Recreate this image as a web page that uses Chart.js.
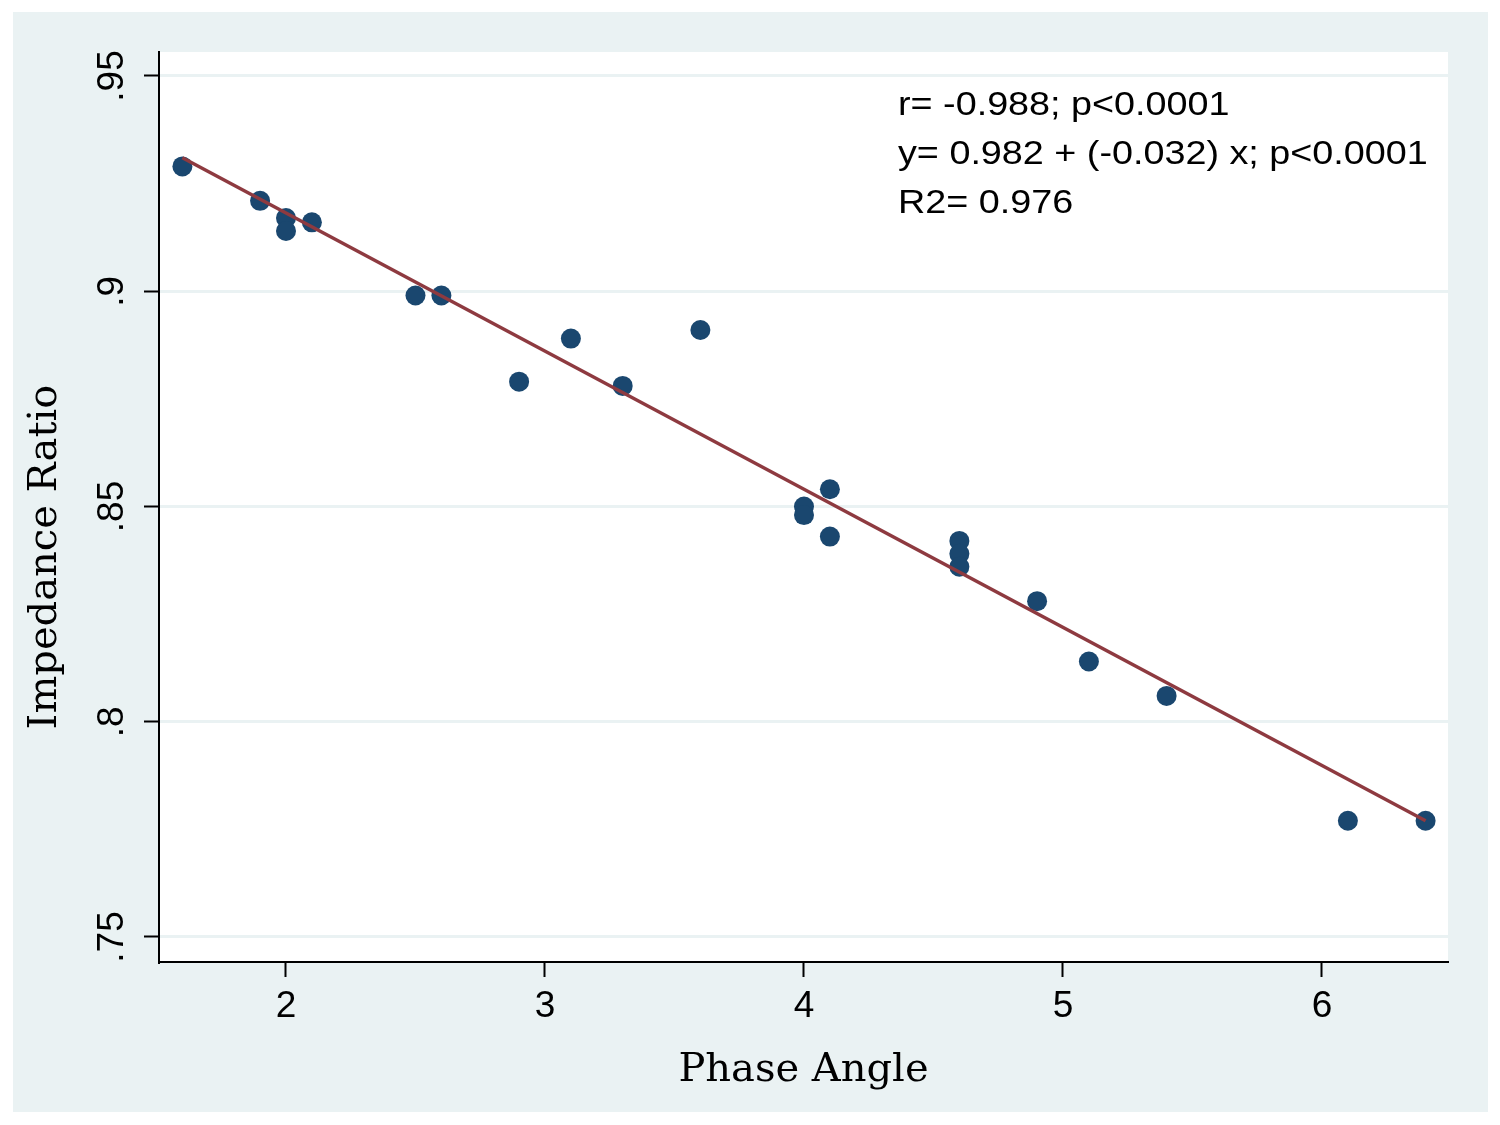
<!DOCTYPE html>
<html>
<head>
<meta charset="utf-8">
<script src="https://cdn.jsdelivr.net/npm/chart.js@4/dist/chart.umd.min.js"></script>
<style>
  html, body { margin: 0; padding: 0; background: #fff; }
</style>
</head>
<body>
<canvas id="myChart" width="1500" height="1125"></canvas>
<script>
// observed points (Phase Angle, Impedance Ratio)
var phaseAngle = [1.6, 1.9, 2.0, 2.0, 2.1, 2.5, 2.6, 2.9, 3.1, 3.3, 3.6,
                  4.0, 4.0, 4.1, 4.1, 4.6, 4.6, 4.6, 4.9, 5.1, 5.4, 6.1, 6.4];
var impedanceRatio = [0.929, 0.921, 0.917, 0.914, 0.916, 0.899, 0.899, 0.879, 0.889, 0.878, 0.891,
                      0.850, 0.848, 0.854, 0.843, 0.842, 0.839, 0.836, 0.828, 0.814, 0.806, 0.777, 0.777];

// fitted line ends
var fitX = [1.6, 6.4];
var fitY = [0.931, 0.777];

var xTicks = [2, 3, 4, 5, 6];
var yTicks = [0.75, 0.80, 0.85, 0.90, 0.95];
var yTickLabels = ['.75', '.8', '.85', '.9', '.95'];

var statsText = [
  'r= -0.988; p<0.0001',
  'y= 0.982 + (-0.032) x; p<0.0001',
  'R2= 0.976'
];

var bgColor = '#eaf2f3';

var backdrop = {
  id: 'backdrop',
  beforeDraw: function(chart) {
    var c = chart.ctx, a = chart.chartArea;
    c.save();
    c.fillStyle = '#fff';
    c.fillRect(0, 0, chart.width, chart.height);
    c.fillStyle = bgColor;
    c.fillRect(13, 12, 1475, 1100);
    c.fillStyle = '#fff';
    c.fillRect(a.left, a.top, a.right - a.left, a.bottom - a.top);
    c.restore();
  },
  afterDraw: function(chart) {
    var c = chart.ctx;
    c.save();
    // y axis title
    c.font = '40px "DejaVu Serif"';
    c.fillStyle = '#000';
    c.textAlign = 'center';
    c.textBaseline = 'middle';
    c.translate(46, 557);
    c.rotate(-Math.PI / 2);
    c.fillText('Impedance Ratio', 0, 0);
    c.restore();

    // stats text
    c.save();
    c.font = '34px "Liberation Sans"';
    c.fillStyle = '#000';
    c.textBaseline = 'alphabetic';
    for (var i = 0; i < statsText.length; i++) {
      c.save();
      c.translate(898, 115 + i * 49);
      c.scale(1.11, 1);
      c.fillText(statsText[i], 0, 0);
      c.restore();
    }
    c.restore();
  }
};

var ctx = document.getElementById('myChart').getContext('2d');
var myChart = new Chart(ctx, {
  type: 'scatter',
  data: {
    datasets: [{
      type: 'line',
      label: 'Fitted values',
      data: fitX.map(function(x, i) { return {x: x, y: fitY[i]}; }),
      borderColor: '#8e3a40',
      borderWidth: 3.5,
      pointRadius: 0,
      fill: false,
      order: 0
    }, {
      label: 'Impedance Ratio',
      data: phaseAngle.map(function(x, i) { return {x: x, y: impedanceRatio[i]}; }),
      backgroundColor: '#1a476f',
      borderWidth: 0,
      pointRadius: 10,
      order: 1
    }]
  },
  options: {
    responsive: false,
    animation: false,
    layout: { padding: { left: 0, top: 52, right: 52, bottom: 0 } },
    plugins: {
      legend: { display: false },
      tooltip: { enabled: false }
    },
    scales: {
      x: {
        type: 'linear',
        min: 1.5097,
        max: 6.4865,
        afterBuildTicks: function(axis) {
          axis.ticks = xTicks.map(function(v) { return {value: v}; });
        },
        afterFit: function(axis) { axis.height = 163; },
        ticks: {
          color: '#000',
          font: { family: '"Liberation Sans"', size: 37 },
          padding: 8,
          maxRotation: 0,
          callback: function(v) { return String(v); }
        },
        grid: {
          drawOnChartArea: false,
          drawTicks: true,
          tickLength: 15,
          tickColor: '#000',
          tickWidth: 2
        },
        border: { display: true, color: '#000', width: 2 },
        title: {
          display: true,
          text: 'Phase Angle',
          color: '#000',
          font: { family: '"DejaVu Serif"', size: 40 },
          padding: { top: 0, bottom: 30 }
        }
      },
      y: {
        type: 'linear',
        min: 0.74419,
        max: 0.95557,
        afterBuildTicks: function(axis) {
          axis.ticks = yTicks.map(function(v) { return {value: v}; });
        },
        afterFit: function(axis) { axis.width = 159; },
        ticks: {
          color: '#000',
          font: { family: '"Liberation Sans"', size: 37 },
          padding: 5,
          minRotation: 90,
          maxRotation: 90,
          crossAlign: 'center',
          callback: function(v) {
            var i = yTicks.indexOf(v);
            return i >= 0 ? yTickLabels[i] : '';
          }
        },
        grid: {
          color: bgColor,
          lineWidth: 3,
          drawTicks: true,
          tickLength: 15,
          tickColor: '#000',
          tickWidth: 2
        },
        border: { display: true, color: '#000', width: 2 }
      }
    }
  },
  plugins: [backdrop]
});
</script>
</body>
</html>
